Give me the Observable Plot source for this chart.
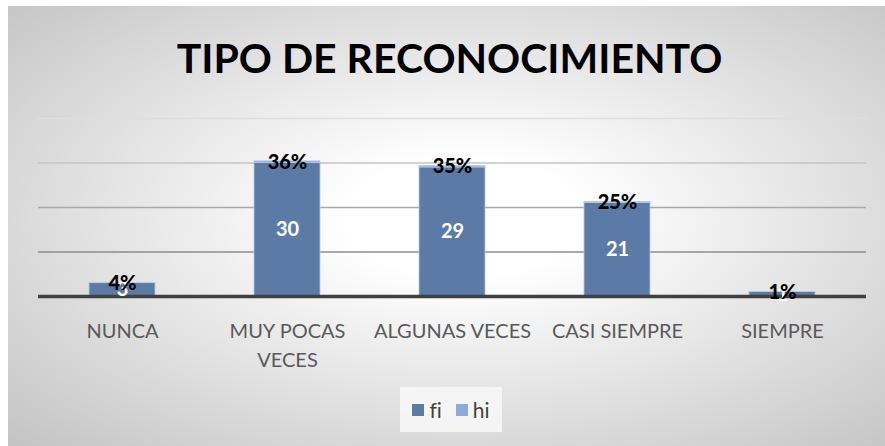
<!DOCTYPE html>
<html>
<head>
<meta charset="utf-8">
<script src="https://cdn.jsdelivr.net/npm/d3@7"></script>
<script src="https://cdn.jsdelivr.net/npm/@observablehq/plot@0.6"></script>
<style>
  html, body { margin: 0; padding: 0; background: #fff; }
  #box {
    position: absolute; left: 8px; top: 6px; width: 877px; height: 440px;
    background: radial-gradient(ellipse farthest-corner at 52% 48%, #ffffff 18%, #c3c3c3 100%);
    font-family: Lato, sans-serif; overflow: hidden; font-variant-ligatures: none;
  }
  #title {
    position: absolute; left: 0; width: 877px; top: 31px; text-align: center;
    font-size: 41px; font-weight: 700; color: #000; line-height: 1; padding-left: 6px; box-sizing: border-box;
  }
  #chart { position: absolute; left: 0; top: 0; }
  #legend {
    position: absolute; left: 392px; top: 381px; width: 102px; height: 45px;
    background: rgba(248,248,248,0.85); display: flex; align-items: center; justify-content: center;
    font-size: 21px; color: #404040; font-variant-ligatures: none;
  }
  #legend .sw { display: inline-block; width: 12px; height: 12px; margin-right: 5px; }
  #legend .it { display: flex; align-items: center; margin: 0 7px; }
</style>
</head>
<body>
<div id="box">
  <div id="title">TIPO DE RECONOCIMIENTO</div>
  <div id="chart"></div>
  <div id="legend"></div>
</div>
<script>
const categories = ["NUNCA", "MUY POCAS VECES", "ALGUNAS VECES", "CASI SIEMPRE", "SIEMPRE"];
const fi = [3, 30, 29, 21, 1];
const hi = [0.04, 0.36, 0.35, 0.25, 0.01];
const seriesNames = ["fi", "hi"];
const seriesColors = ["#5b7ba6", "#8eaadb"];
const gridValues = [10, 20, 30, 40];
const gridColors = ["#8c8c8c", "#a8a8a8", "#c4c4c4", "#dedede"];
const categoryLabels = ["NUNCA", "MUY POCAS\nVECES", "ALGUNAS VECES", "CASI SIEMPRE", "SIEMPRE"];

const rows = [];
categories.forEach((c, i) => {
  rows.push({cat: c, series: "fi", value: fi[i]});
  rows.push({cat: c, series: "hi", value: hi[i]});
});
const fiRows = categories.map((c, i) => ({cat: c, fi: fi[i], hi: hi[i], label: categoryLabels[i]}));

const plot = Plot.plot({
  width: 877,
  height: 440,
  marginLeft: 30,
  marginRight: 19,
  marginTop: 112,
  marginBottom: 150,
  style: {background: "transparent", fontFamily: "Lato, sans-serif"},
  x: {domain: categories, paddingInner: 0.6, paddingOuter: 0.3, axis: null},
  y: {domain: [0, 40], axis: null},
  color: {domain: seriesNames, range: seriesColors},
  marks: [
    gridValues.map((g, i) => Plot.ruleY([g], {stroke: gridColors[i], strokeWidth: 1.3})),
    Plot.barY(rows, Plot.stackY({x: "cat", y: "value", fill: "series", order: seriesNames, stroke: "#b9c9e0", strokeWidth: 0.8})),
    Plot.ruleY([0], {stroke: "#404040", strokeWidth: 3.5}),
    Plot.text(fiRows, {x: "cat", y: d => d.fi / 2, text: d => String(d.fi), fill: "white", fontWeight: "bold", fontSize: 20}),
    Plot.text(fiRows, {x: "cat", y: d => d.fi + d.hi, text: d => Math.round(d.hi * 100) + "%", fill: "black", fontWeight: "900", fontSize: 20, dy: 1}),
    Plot.text(fiRows, {x: "cat", y: 0, text: "label", fill: "#595959", fontSize: 20, lineAnchor: "top", lineHeight: 1.45, dy: 21})
  ]
});
document.getElementById("chart").appendChild(plot);

const legend = document.getElementById("legend");
seriesNames.forEach((s, i) => {
  const it = document.createElement("span");
  it.className = "it";
  it.innerHTML = `<span class="sw" style="background:${seriesColors[i]}"></span>${s}`;
  legend.appendChild(it);
});
</script>
</body>
</html>
